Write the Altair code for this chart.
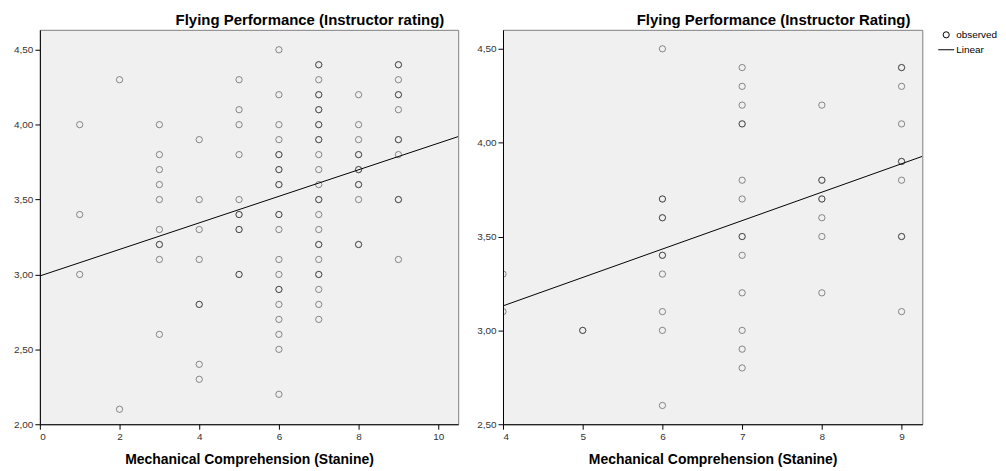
import altair as alt
import pandas as pd

FONT = "Liberation Sans"

left_title = "Flying Performance (Instructor rating)"
right_title = "Flying Performance (Instructor Rating)"
x_title = "Mechanical Comprehension (Stanine)"
legend_labels = ["observed", "Linear"]

# ratings observed at each stanine (repeated values = overlapping cases)
left_ratings = {
    1: [4.0, 3.4, 3.0],
    2: [4.3, 2.1],
    3: [4.0, 3.8, 3.7, 3.6, 3.5, 3.3, 3.2, 3.2, 3.1, 2.6],
    4: [3.9, 3.5, 3.3, 3.1, 2.8, 2.8, 2.4, 2.3],
    5: [4.3, 4.1, 4.0, 3.8, 3.5, 3.4, 3.4, 3.3, 3.3, 3.0, 3.0],
    6: [4.5, 4.2, 4.0, 3.9, 3.8, 3.8, 3.7, 3.7, 3.6, 3.6, 3.4, 3.4, 3.3,
        3.1, 3.0, 2.9, 2.9, 2.8, 2.7, 2.6, 2.5, 2.2],
    7: [4.4, 4.4, 4.3, 4.2, 4.2, 4.1, 4.1, 4.0, 4.0, 3.9, 3.9, 3.8, 3.7,
        3.6, 3.5, 3.5, 3.4, 3.3, 3.2, 3.2, 3.1, 3.0, 3.0, 2.9, 2.8, 2.7],
    8: [4.2, 4.0, 3.9, 3.8, 3.8, 3.7, 3.7, 3.6, 3.6, 3.5, 3.2, 3.2],
    9: [4.4, 4.4, 4.3, 4.2, 4.2, 4.1, 3.9, 3.9, 3.8, 3.5, 3.5, 3.1],
}
right_ratings = {
    4: [3.3, 3.1],
    5: [3.0, 3.0],
    6: [4.5, 3.7, 3.7, 3.6, 3.6, 3.4, 3.4, 3.3, 3.1, 3.0, 2.6],
    7: [4.4, 4.3, 4.2, 4.1, 4.1, 3.8, 3.7, 3.5, 3.5, 3.4, 3.2, 3.0, 2.9, 2.8],
    8: [4.2, 3.8, 3.8, 3.7, 3.7, 3.6, 3.5, 3.2],
    9: [4.4, 4.4, 4.3, 4.1, 3.9, 3.9, 3.8, 3.5, 3.5, 3.1],
}

# linear fit (intercept, slope)
left_fit = [2.99, 0.0886]
right_fit = [2.525, 0.1514]

left_xticks = [0, 2, 4, 6, 8, 10]
left_yticks = [2.0, 2.5, 3.0, 3.5, 4.0, 4.5]
right_xticks = [4, 5, 6, 7, 8, 9]
right_yticks = [2.5, 3.0, 3.5, 4.0, 4.5]

left_xdom = [0, 10.5]
left_ydom = [2.0, 4.633]
right_xdom = [4, 9.26]
right_ydom = [2.5, 4.601]


def points_df(ratings):
    rows = []
    for s, vals in ratings.items():
        for v in vals:
            rows.append({"stanine": s, "rating": v, "series": legend_labels[0]})
    return pd.DataFrame(rows)


def fit_df(fit, xdom):
    return pd.DataFrame({"stanine": xdom,
                         "rating": [fit[0] + fit[1] * x for x in xdom]})


YLAB = "replace(format(datum.value, '.2f'), '.', ',')"


def panel(ratings, fit, xdom, ydom, xticks, yticks, title, width, dx, legend):
    xs = alt.Scale(domain=xdom, nice=False, zero=False)
    ys = alt.Scale(domain=ydom, nice=False, zero=False)
    xax = alt.Axis(values=xticks, format="d", title=x_title, grid=False,
                   titleFont=FONT, titleFontSize=14, titleFontWeight="bold",
                   titleColor="black", titlePadding=11)
    yax = alt.Axis(values=yticks, labelExpr=YLAB, title=None, grid=False,
                   minExtent=31)
    enc = dict(
        x=alt.X("stanine:Q", scale=xs, axis=xax),
        y=alt.Y("rating:Q", scale=ys, axis=yax),
    )
    if legend:
        enc["shape"] = alt.Shape(
            "series:N",
            scale=alt.Scale(domain=legend_labels, range=["circle", "M-2.6,0H2.6"]),
            legend=alt.Legend(title=None, orient="right", offset=18, padding=0,
                              labelFont=FONT, labelFontSize=10,
                              labelColor="black", symbolSize=38,
                              symbolStrokeColor="black", symbolStrokeWidth=1,
                              symbolFillColor="transparent", symbolOpacity=1,
                              labelOffset=5, rowPadding=4),
        )
    pts = alt.Chart(points_df(ratings)).mark_point(
        shape="circle", filled=False, size=40, color="black",
        strokeOpacity=0.62, strokeWidth=1, clip=True
    ).encode(**enc)
    line = alt.Chart(fit_df(fit, xdom)).mark_line(
        color="black", strokeWidth=1, clip=True
    ).encode(
        x=alt.X("stanine:Q", scale=xs),
        y=alt.Y("rating:Q", scale=ys),
    )
    return alt.layer(pts, line).properties(
        width=width, height=396,
        title=alt.TitleParams(title, anchor="end", font=FONT, fontSize=15,
                              fontWeight="bold", color="black", offset=2, dx=dx),
    )


left = panel(left_ratings, left_fit, left_xdom, left_ydom, left_xticks,
             left_yticks, left_title, 420, -14, False)
right = panel(right_ratings, right_fit, right_xdom, right_ydom, right_xticks,
              right_yticks, right_title, 421, -12, True)

chart = alt.hconcat(left, right, spacing=12).properties(
    padding={"left": 0, "top": 3, "right": 0, "bottom": 0}
).configure_view(
    fill="#f0f0f0", stroke="#808080", strokeWidth=1
).configure_axis(
    labelFont=FONT, labelFontSize=10, labelColor="#333333",
    domainColor="black", tickColor="black", tickSize=5, labelPadding=2,
)

chart.save("out.html", embed_options={"renderer": "svg", "actions": False})
